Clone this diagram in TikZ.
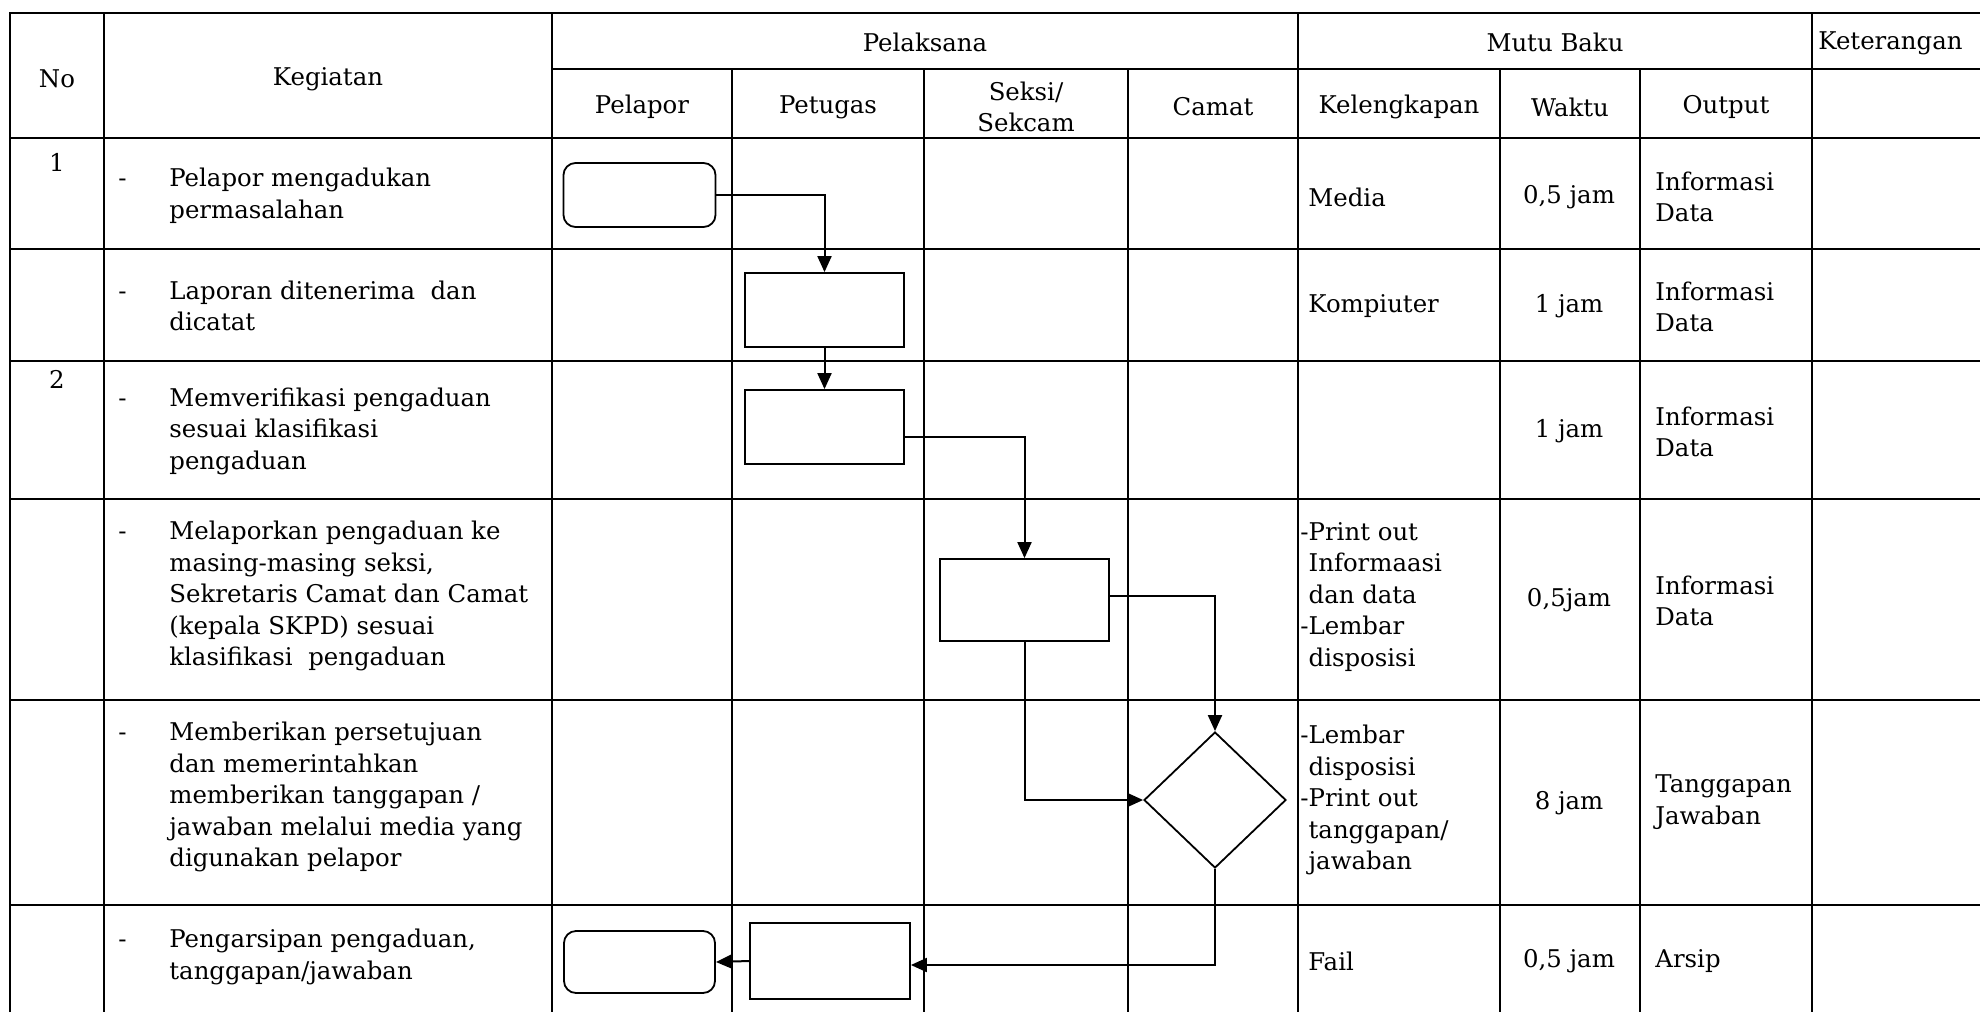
\documentclass[tikz,border=0pt]{standalone}
\usepackage{fontspec}
\setmainfont{DejaVu Serif}
\usetikzlibrary{shapes.geometric, arrows.meta}
\newcommand{\dashitem}{\makebox[25.5pt][l]{-}}
\newcommand{\dashskip}{\hspace*{25.5pt}}
\begin{document}
\begin{tikzpicture}[x=0.5pt, y=-0.5pt,
  grid/.style={line width=1.4pt, black},
  conn/.style={line width=1pt, -{Triangle[length=8pt,width=7pt]}},
  pbox/.style={draw, line width=0.9pt, minimum width=79.5pt, minimum height=37pt, inner sep=0pt},
  rbox/.style={draw, line width=0.9pt, rounded corners=6pt, minimum width=76pt, minimum height=32pt, inner sep=0pt},
  dbox/.style={draw, diamond, line width=0.9pt, minimum width=71pt, minimum height=68pt, inner sep=0pt},
  txt/.style={inner sep=0pt, align=left, font=\fontsize{12.2}{15.75}\selectfont},
  ctxt/.style={txt, align=center},
]
\useasboundingbox (0,0) rectangle (1980,1012);
\fill[white] (0,0) rectangle (1980,1012);
% table grid
\draw[grid] (10,1012) -- (10,13) -- (1980,13);
\draw[grid] (552,69) -- (1980,69);
\foreach \yy in {138,249,361,499,700,905} \draw[grid] (10,\yy) -- (1980,\yy);
\foreach \xx in {104,552,1298,1812} \draw[grid] (\xx,13) -- (\xx,1012);
\foreach \xx in {732,924,1128,1500,1640} \draw[grid] (\xx,69) -- (\xx,1012);

% header texts
\node[ctxt] (hno) at (57,79) {No};
\node[ctxt] (hkeg) at (328,79) {Kegiatan};
\node[ctxt] (hpel) at (925,42) {Pelaksana};
\node[ctxt] (hmutu) at (1555,42) {Mutu Baku};
\node[txt, anchor=west] (hket) at (1818,43) {Keterangan};
\node[ctxt] (hpelapor) at (642,107) {Pelapor};
\node[ctxt] (hpetugas) at (828,107) {Petugas};
\node[ctxt] (hseksi) at (1026,107) {Seksi/\\Sekcam};
\node[ctxt] (hcamat) at (1213,107) {Camat};
\node[ctxt] (hkel) at (1399,107) {Kelengkapan};
\node[ctxt] (hwaktu) at (1570,107) {Waktu};
\node[ctxt] (hout) at (1726,107) {Output};

% numbers
\node[ctxt] (n1) at (57,162) {1};
\node[ctxt] (n2) at (57,379) {2};

% kegiatan
\node[txt, anchor=west] (k1) at (118,196) {\dashitem Pelapor mengadukan\\\dashskip permasalahan};
\node[txt, anchor=west] (k2) at (118,306) {\dashitem Laporan ditenerima\ \ dan\\\dashskip dicatat};
\node[txt, anchor=west] (k3) at (118,431) {\dashitem Memverifikasi pengaduan\\\dashskip sesuai klasifikasi\\\dashskip pengaduan};
\node[txt, anchor=west] (k4) at (118,596) {\dashitem Melaporkan pengaduan ke\\\dashskip masing-masing seksi,\\\dashskip Sekretaris Camat dan Camat\\\dashskip (kepala SKPD) sesuai\\\dashskip klasifikasi\ \ pengaduan};
\node[txt, anchor=west] (k5) at (118,797) {\dashitem Memberikan persetujuan\\\dashskip dan memerintahkan\\\dashskip memberikan tanggapan /\\\dashskip jawaban melalui media yang\\\dashskip digunakan pelapor};
\node[txt, anchor=west] (k6) at (118,957) {\dashitem Pengarsipan pengaduan,\\\dashskip tanggapan/jawaban};

% kelengkapan
\node[txt, anchor=west] (l1) at (1308,197) {Media};
\node[txt, anchor=west] (l2) at (1308,306) {Kompiuter};
\node[txt, anchor=west] (l4) at (1300,597) {-Print out\\\phantom{-}Informaasi\\\phantom{-}dan data\\-Lembar\\\phantom{-}disposisi};
\node[txt, anchor=west] (l5) at (1300,800) {-Lembar\\\phantom{-}disposisi\\-Print out\\\phantom{-}tanggapan/\\\phantom{-}jawaban};
\node[txt, anchor=west] (l6) at (1308,961) {Fail};

% waktu
\node[ctxt] (w1) at (1569,197) {0,5 jam};
\node[ctxt] (w2) at (1569,306) {1 jam};
\node[ctxt] (w3) at (1569,431) {1 jam};
\node[ctxt] (w4) at (1569,600) {0,5jam};
\node[ctxt] (w5) at (1569,803) {8 jam};
\node[ctxt] (w6) at (1569,961) {0,5 jam};

% output
\node[txt, anchor=west] (o1) at (1655,197) {Informasi\\Data};
\node[txt, anchor=west] (o2) at (1655,307) {Informasi\\Data};
\node[txt, anchor=west] (o3) at (1655,432) {Informasi\\Data};
\node[txt, anchor=west] (o4) at (1655,601) {Informasi\\Data};
\node[txt, anchor=west] (o5) at (1655,802) {Tanggapan\\Jawaban};
\node[txt, anchor=west] (o6) at (1655,961) {Arsip};

% flowchart shapes
\node[rbox] (p1) at (639.5,195) {};
\node[pbox] (b2) at (824.5,310) {};
\node[pbox] (b3) at (824.5,427) {};
\node[pbox, minimum width=84.5pt, minimum height=41pt] (b4) at (1024.5,600) {};
\node[dbox] (dm) at (1215,800) {};
\node[pbox, minimum width=80pt, minimum height=38pt] (b6) at (830,961) {};
\node[rbox, minimum width=75.5pt, minimum height=31pt] (p6) at (639.5,962) {};

% connectors
\draw[conn] (p1.east) -| (b2.north);
\draw[conn] (b2.south) -- (b3.north);
\draw[conn] ([yshift=-5pt]b3.east) -| (b4.north);
\draw[conn] ([yshift=2pt]b4.east) -| (dm.north);
\draw[conn] (b4.south) |- (dm.west);
\draw[conn] (dm.south) |- ([yshift=-2pt]b6.east);
\draw[conn] (b6.west) -- (p6.east);
\end{tikzpicture}
\end{document}
